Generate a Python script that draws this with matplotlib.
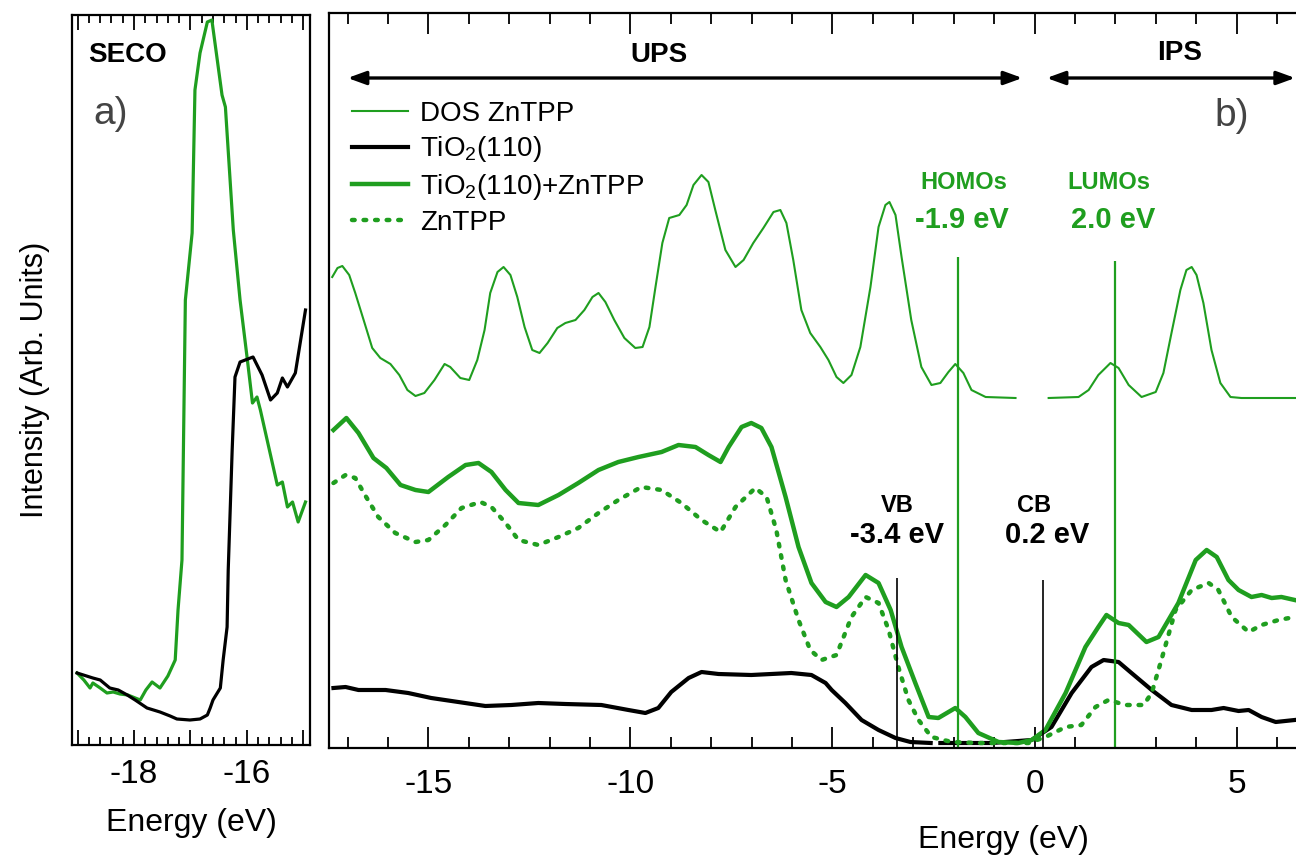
import numpy as np
import matplotlib
matplotlib.use('Agg')
import matplotlib.pyplot as plt

plt.rcParams['font.family'] = ['Liberation Sans', 'DejaVu Sans']
plt.rcParams['mathtext.fontset'] = 'custom'
plt.rcParams['mathtext.rm'] = 'Liberation Sans'
plt.rcParams['mathtext.it'] = 'Liberation Sans:italic'
plt.rcParams['mathtext.bf'] = 'Liberation Sans:bold'
plt.rcParams['axes.unicode_minus'] = False
plt.rcParams['lines.solid_joinstyle'] = 'round'

GREEN = '#1f9e1f'

# ---- panel a) SECO ----
seco_green_e = [-19.01, -18.89, -18.78, -18.73, -18.60, -18.48, -18.37, -18.25, -18.11, -17.89,
                -17.79, -17.68, -17.54, -17.40, -17.27, -17.22, -17.15, -17.09, -16.97, -16.92,
                -16.83, -16.70, -16.62, -16.44, -16.38, -16.24, -16.12, -15.99, -15.90, -15.82,
                -15.76, -15.58, -15.46, -15.37, -15.28, -15.19, -15.09, -14.96]
seco_green_i = [75, 68, 60, 65, 60, 55, 56, 54, 53, 48,
                58, 66, 60, 72, 88, 138, 188, 448, 515, 658,
                695, 726, 728, 653, 641, 518, 448, 388, 345, 351,
                338, 293, 263, 266, 241, 246, 226, 246]

seco_black_e = [-19.01, -18.73, -18.60, -18.43, -18.28, -18.12, -17.98, -17.77, -17.54, -17.36,
                -17.24, -17.01, -16.83, -16.70, -16.65, -16.60, -16.47, -16.42, -16.35, -16.33,
                -16.26, -16.21, -16.12, -15.89, -15.73, -15.58, -15.46, -15.37, -15.28, -15.14,
                -14.96]
seco_black_i = [75, 70, 68, 60, 58, 53, 48, 40, 36, 32,
                29, 28, 29, 33, 40, 48, 60, 88, 121, 178,
                298, 371, 386, 391, 373, 348, 355, 370, 361, 375,
                438]

# ---- panel b) UPS / IPS ----
dos_e = [-17.38, -17.25, -17.13, -16.96, -16.81, -16.58, -16.39, -16.19, -15.94, -15.72,
         -15.52, -15.32, -15.10, -14.85, -14.60, -14.46, -14.21, -13.99, -13.79, -13.61,
         -13.47, -13.29, -13.14, -12.97, -12.80, -12.62, -12.43, -12.25, -12.05, -11.81,
         -11.61, -11.36, -11.14, -10.94, -10.79, -10.62, -10.40, -10.15, -9.88, -9.70,
         -9.53, -9.38, -9.21, -9.04, -8.79, -8.61, -8.44, -8.24, -8.07, -7.90,
         -7.65, -7.40, -7.20, -6.96, -6.71, -6.46, -6.29, -6.14, -5.97, -5.77,
         -5.55, -5.30, -5.10, -4.90, -4.73, -4.53, -4.31, -4.06, -3.86, -3.69,
         -3.59, -3.44, -3.29, -3.05, -2.80, -2.55, -2.33, -2.13, -1.96, -1.76,
         -1.56, -1.21, -0.47,
         np.nan,
         0.35, 1.09, 1.34, 1.58, 1.88, 2.08, 2.33, 2.65, 3.00, 3.19,
         3.39, 3.61, 3.76, 3.89, 4.01, 4.18, 4.38, 4.60, 4.85, 5.12,
         6.46]
dos_i = [471, 480, 482, 473, 455, 425, 400, 390, 384, 373,
         358, 352, 355, 368, 384, 381, 370, 368, 388, 418,
         455, 476, 481, 473, 451, 421, 398, 395, 405, 420,
         425, 428, 438, 451, 455, 446, 428, 410, 400, 401,
         421, 461, 505, 530, 533, 543, 563, 573, 566, 538,
         498, 481, 488, 505, 520, 536, 538, 525, 488, 438,
         415, 401, 388, 371, 365, 373, 401, 461, 521, 543,
         546, 533, 491, 428, 381, 363, 365, 376, 384, 375,
         358, 351, 350,
         np.nan,
         350, 351, 358, 373, 385, 380, 363, 351, 356, 375,
         415, 458, 478, 481, 473, 445, 398, 365, 351, 350,
         350]

tio2_e = [-17.35, -17.05, -16.73, -16.06, -15.50, -14.93, -14.26, -13.59, -12.95, -12.28,
          -11.61, -10.72, -10.05, -9.63, -9.31, -8.99, -8.56, -8.24, -7.82, -7.01,
          -6.02, -5.52, -5.17, -5.02, -4.68, -4.28, -3.86, -3.44, -3.07, -2.57,
          np.nan,
          -2.33, -1.06, -0.07, 0.42, 0.92, 1.41, 1.71, 2.08, 2.40, 2.90,
          3.39, 3.89, 4.38, 4.68, 5.05, 5.30, 5.62, 5.97, 6.44]
tio2_i = [60, 61, 58, 58, 55, 50, 46, 42, 43, 45,
          44, 43, 38, 35, 40, 56, 70, 76, 74, 73,
          75, 73, 65, 58, 45, 28, 18, 10, 6, 5,
          np.nan,
          5, 5, 8, 21, 55, 81, 88, 86, 75, 58,
          43, 38, 38, 40, 37, 38, 31, 26, 28]

mix_e = [-17.35, -17.03, -16.73, -16.36, -16.04, -15.69, -15.32, -15.00, -14.51, -14.08,
         -13.76, -13.44, -13.09, -12.77, -12.28, -11.78, -11.29, -10.79, -10.30, -9.80,
         -9.23, -8.81, -8.39, -8.07, -7.77, -7.57, -7.25, -7.01, -6.76, -6.51,
         -6.16, -5.84, -5.52, -5.17, -4.90, -4.60, -4.18, -3.86, -3.56, -3.29,
         -2.95, -2.62, -2.38, -1.96, -1.71, -1.39, -0.89, -0.40, -0.07, 0.27,
         0.77, 1.26, 1.58, 1.78, 2.08, 2.33, 2.77, 3.07, 3.56, 3.99,
         4.26, 4.51, 4.80, 5.05, 5.37, 5.62, 5.87, 6.11, 6.44]
mix_i = [318, 330, 315, 290, 280, 263, 258, 256, 271, 283,
         285, 276, 258, 245, 243, 253, 265, 278, 286, 291,
         296, 303, 301, 293, 286, 301, 321, 325, 320, 301,
         251, 201, 165, 146, 141, 151, 173, 165, 138, 101,
         65, 31, 30, 40, 31, 15, 6, 5, 8, 18,
         55, 101, 121, 133, 125, 123, 106, 111, 145, 188,
         198, 191, 168, 158, 151, 153, 150, 151, 148]

zntpp_e = [-17.35, -17.05, -16.81, -16.54, -16.24, -15.82, -15.32, -15.00, -14.58, -14.18,
           -13.71, -13.44, -13.09, -12.77, -12.28, -11.78, -11.29, -10.79, -10.30, -9.73,
           -9.23, -8.74, -8.24, -7.77, -7.40, -6.91, -6.63, -6.39, -6.16, -5.84,
           -5.55, -5.27, -4.90, -4.53, -4.18, -3.86, -3.61, -3.37, -3.12, -2.87,
           -2.55, -2.05, -1.39, -0.72, -0.15, 0.27, 0.77, 1.16, 1.51, 1.83,
           2.25, 2.70, 2.90, 3.14, 3.49, 3.89, 4.31, 4.55, 4.88, 5.30,
           5.62, 6.04, 6.44]
zntpp_i = [265, 273, 270, 251, 231, 215, 206, 208, 223, 240,
           246, 241, 225, 208, 203, 211, 220, 235, 248, 261,
           258, 245, 228, 216, 241, 260, 251, 218, 168, 128,
           98, 88, 93, 131, 151, 145, 118, 81, 48, 28,
           11, 6, 5, 5, 5, 11, 21, 23, 41, 48,
           43, 43, 55, 88, 138, 158, 165, 158, 131, 116,
           123, 128, 131]

homo, lumo = -1.9, 2.0
vb, cb = -3.4, 0.2

fig = plt.figure(figsize=(12.96, 8.64), dpi=100)
axa = fig.add_axes([72/1296, (864-745)/864, (310-72)/1296, (745-15)/864])
axb = fig.add_axes([329/1296, (864-748)/864, (1302-329)/1296, (748-13)/864])

# panel a
axa.plot(seco_green_e, seco_green_i, color=GREEN, lw=2.3)
axa.plot(seco_black_e, seco_black_i, color='black', lw=2.3)
axa.set_xlim(-19.1, -14.88)
axa.set_ylim(3, 733)
axa.set_yticks([])
axa.set_xticks([-19, -18, -17, -16, -15])
axa.set_xticklabels(['', '-18', '', '-16', ''])
axa.set_xticks(np.arange(-19, -14.8, 0.2), minor=True)
axa.tick_params(axis='x', which='both', direction='in', top=True, labelsize=24, pad=10)
axa.tick_params(axis='x', which='major', length=11, width=1.3)
axa.tick_params(axis='x', which='minor', length=6, width=1.3)
for s in axa.spines.values():
    s.set_linewidth(1.6)
axa.text(0.068, 0.945, 'SECO', transform=axa.transAxes, fontsize=20, fontweight='bold',
         ha='left', va='center')
axa.text(0.09, 0.865, 'a)', transform=axa.transAxes, fontsize=28, color='#444444',
         ha='left', va='center')

# panel b
axb.plot(dos_e, dos_i, color=GREEN, lw=1.5, label='DOS ZnTPP')
axb.plot(tio2_e, tio2_i, color='black', lw=3, label='TiO$_2$(110)')
axb.plot(mix_e, mix_i, color=GREEN, lw=3.2, label='TiO$_2$(110)+ZnTPP')
axb.plot(zntpp_e, zntpp_i, color=GREEN, lw=3.2, ls=(0, (0.6, 2.0)),
         dash_capstyle='round', label='ZnTPP')

axb.vlines([homo, lumo], 0, [491, 487], color=GREEN, lw=1.6)
axb.vlines([vb, cb], 0, [170, 168], color='black', lw=1.2)

axb.set_xlim(-17.46, 6.62)
axb.set_ylim(0, 735)
axb.set_yticks([])
axb.set_xticks([-15, -10, -5, 0, 5])
axb.set_xticks(np.arange(-17, 7, 1), minor=True)
axb.tick_params(axis='x', which='both', direction='in', top=True, labelsize=24, pad=15)
axb.tick_params(axis='x', which='major', length=15, width=1.3)
axb.tick_params(axis='x', which='minor', length=8, width=1.3)
for s in axb.spines.values():
    s.set_linewidth(1.6)

# UPS / IPS arrows
arrow_y = 670
axb.annotate('', xy=(-17.0, arrow_y), xytext=(-0.3, arrow_y),
             arrowprops=dict(arrowstyle='<|-|>,head_length=1.1,head_width=0.4',
                             color='black', lw=2.4, shrinkA=0, shrinkB=0))
axb.annotate('', xy=(0.3, arrow_y), xytext=(6.45, arrow_y),
             arrowprops=dict(arrowstyle='<|-|>,head_length=1.1,head_width=0.4',
                             color='black', lw=2.4, shrinkA=0, shrinkB=0))
axb.text(-9.3, 693, 'UPS', fontsize=20, fontweight='bold', ha='center', va='center')
axb.text(3.6, 695, 'IPS', fontsize=20, fontweight='bold', ha='center', va='center')
axb.text(4.45, 632, 'b)', fontsize=28, color='#444444', ha='left', va='center')

# level annotations
axb.text(-1.75, 566, 'HOMOs', color=GREEN, fontsize=17, fontweight='bold', ha='center', va='center')
axb.text(-1.8, 528, '-1.9 eV', color=GREEN, fontsize=21, fontweight='bold', ha='center', va='center')
axb.text(1.85, 566, 'LUMOs', color=GREEN, fontsize=17, fontweight='bold', ha='center', va='center')
axb.text(1.95, 528, '2.0 eV', color=GREEN, fontsize=21, fontweight='bold', ha='center', va='center')
axb.text(-3.4, 243, 'VB', fontsize=17, fontweight='bold', ha='center', va='center')
axb.text(-3.4, 213, '-3.4 eV', fontsize=21, fontweight='bold', ha='center', va='center')
axb.text(0.0, 243, 'CB', fontsize=17, fontweight='bold', ha='center', va='center')
axb.text(0.3, 213, '0.2 eV', fontsize=21, fontweight='bold', ha='center', va='center')

axb.legend(loc='upper left', bbox_to_anchor=(352/1296, 1 - 101/864), bbox_transform=fig.transFigure,
           frameon=False, fontsize=20, handlelength=2.0, handletextpad=0.45,
           labelspacing=0.27, borderpad=0, borderaxespad=0)

fig.text(35/1296, 1 - 380/864, 'Intensity (Arb. Units)', rotation=90, fontsize=22,
         ha='center', va='center')
fig.text(191/1296, 1 - 823/864, 'Energy (eV)', fontsize=23, ha='center', va='center')
fig.text(1003/1296, 1 - 840/864, 'Energy (eV)', fontsize=23, ha='center', va='center')

fig.savefig('out.png', dpi=100)
